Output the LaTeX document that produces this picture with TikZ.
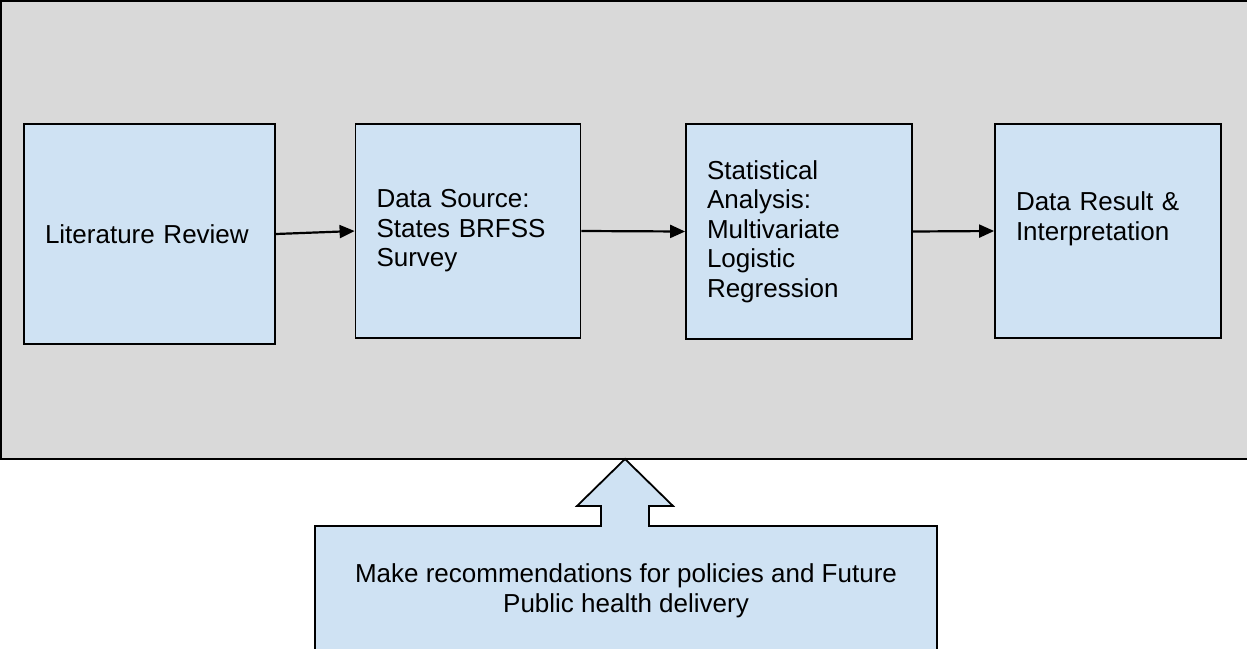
\documentclass[tikz,border=0pt]{standalone}
\usepackage{fontspec}
\setmainfont{Liberation Sans}
\usetikzlibrary{arrows.meta}
\definecolor{panelgray}{HTML}{D9D9D9}
\definecolor{boxblue}{HTML}{CFE2F3}
\tikzset{
  stepbox/.style={draw=black, line width=1.8pt, fill=boxblue, inner xsep=21pt, inner ysep=0pt,
    align=left, font=\fontsize{26}{29.5}\selectfont},
  flow/.style={line width=2.2pt, -{Triangle[length=15pt,width=13pt]}},
}
\begin{document}
\begin{tikzpicture}[x=1pt,y=-1pt]
\useasboundingbox (0,0) rectangle (1247,648);
% gray panel
\fill[panelgray] (0,0) rectangle (1247,459);
\draw[line width=1.8pt] (1247,1) -- (1,1) -- (1,459) -- (1247,459);
% boxes
\node[stepbox, text width=209pt, minimum width=251pt, minimum height=220pt] (lit) at (149.5,234) {Literature Review};
\node[stepbox, text width=183pt, minimum width=225pt, minimum height=214pt] (ds) at (468,231) {Data Source:\\States BRFSS\\Survey};
\node[stepbox, text width=184pt, minimum width=226pt, minimum height=215pt] (sa) at (799,231.5) {Statistical\\Analysis:\\Multivariate\\Logistic\\Regression};
\node[stepbox, text width=184pt, minimum width=226pt, minimum height=214pt] (dr) at (1108,231) {Data Result \&\\Interpretation\\\mbox{}};
% connectors
\draw[flow] (lit.east) -- (ds.west);
\draw[flow] (ds.east) -- (sa.west);
\draw[flow] (sa.east) -- (dr.west);
% bottom box with block arrow
\draw[line width=1.8pt, fill=boxblue] (315,660) -- (315,526) -- (601,526) -- (601,506) -- (577,506) -- (625,459)
  -- (673,506) -- (649,506) -- (649,526) -- (937,526) -- (937,660);
\node[align=center, inner sep=0pt, font=\fontsize{26}{30}\selectfont] (rec) at (626,590.3)
  {Make recommendations for policies and Future\\Public health delivery};
\end{tikzpicture}
\end{document}
